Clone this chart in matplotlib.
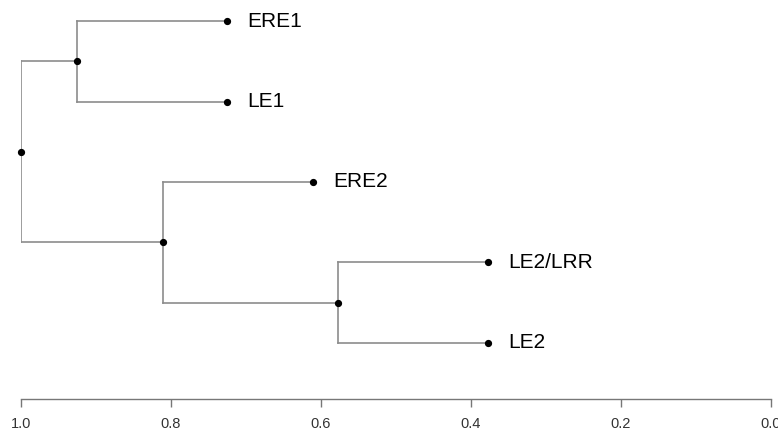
import matplotlib.pyplot as plt

# leaves, top to bottom
labels = ["ERE1", "LE1", "ERE2", "LE2/LRR", "LE2"]
leaf_heights = [0.725, 0.725, 0.611, 0.377, 0.377]

# merges: (child a, child b, height); index >= len(labels) is an earlier merge
merges = [
    (0, 1, 0.925),
    (3, 4, 0.577),
    (2, 6, 0.811),
    (5, 7, 1.0),
]

x_ticks = [1.0, 0.8, 0.6, 0.4, 0.2, 0.0]
tick_labels = ["1.0", "0.8", "0.6", "0.4", "0.2", "0.0"]

line_color = "#8c8c8c"

fig = plt.figure(figsize=(7.78, 4.32), dpi=100)
ax = fig.add_axes([21 / 778, 33 / 432, 750 / 778, 399 / 432])

# node positions: leaves first, merges appended
node_x = list(leaf_heights)
node_y = [i + 1 for i in range(len(labels))]

for a, b, h in merges:
    ya = node_y[a]
    yb = node_y[b]
    ax.plot([h, h], [ya, yb], color=line_color, lw=1.2, zorder=1)
    ax.plot([h, node_x[a]], [ya, ya], color=line_color, lw=1.2, zorder=1)
    ax.plot([h, node_x[b]], [yb, yb], color=line_color, lw=1.2, zorder=1)
    node_x.append(h)
    node_y.append((ya + yb) / 2.0)

ax.plot(node_x, node_y, "o", color="black", markersize=4.2, zorder=3, clip_on=False)

for i, name in enumerate(labels):
    ax.annotate(name, (leaf_heights[i], node_y[i]), xytext=(14.5, 0),
                textcoords="offset points", va="center", ha="left",
                fontsize=15, family="Liberation Sans", color="black")

ax.set_xlim(1.0, 0.0)
ax.set_ylim(5.696, 0.739)

for s in ["left", "top", "right"]:
    ax.spines[s].set_visible(False)
ax.spines["bottom"].set_color("#777777")
ax.spines["bottom"].set_linewidth(1.0)

ax.set_yticks([])
ax.set_xticks(x_ticks)
ax.set_xticklabels(tick_labels, family=["Liberation Sans Narrow", "Liberation Sans"],
                   fontsize=10.5, color="#333333")
ax.tick_params(axis="x", direction="out", length=5.8, width=1.0, color="#777777", pad=7)

fig.savefig("out.png", dpi=100)
